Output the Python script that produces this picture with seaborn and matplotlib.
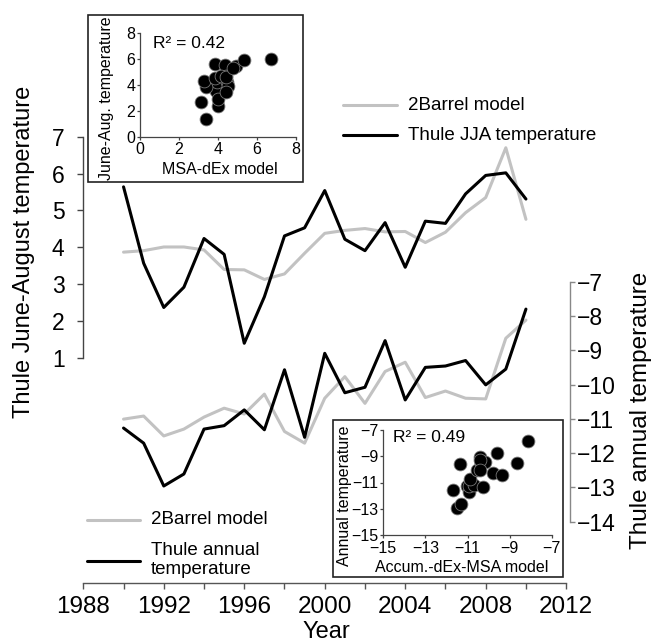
import matplotlib
matplotlib.use("Agg")
import matplotlib.pyplot as plt
from matplotlib.lines import Line2D
from matplotlib.patches import Rectangle
import seaborn as sns

# ---------------- data ----------------
years = list(range(1990, 2011))
jja_thule = [5.64, 3.57, 2.37, 2.92, 4.24, 3.81, 1.40, 2.66, 4.31, 4.53, 5.54,
             4.22, 3.91, 4.67, 3.46, 4.71, 4.65, 5.45, 5.95, 6.02, 5.31]
jja_2barrel = [3.87, 3.91, 4.01, 4.01, 3.93, 3.40, 3.39, 3.13, 3.28, 3.84, 4.38,
               4.46, 4.51, 4.42, 4.43, 4.13, 4.41, 4.94, 5.35, 6.70, 4.76]
ann_thule = [-11.27, -11.71, -12.96, -12.61, -11.30, -11.20, -10.74, -11.32, -9.57, -11.54, -9.09,
             -10.24, -10.08, -8.72, -10.45, -9.50, -9.46, -9.30, -10.01, -9.55, -7.80]
ann_2barrel = [-11.01, -10.92, -11.50, -11.30, -10.95, -10.69, -10.86, -10.28, -11.37, -11.71, -10.40,
               -9.77, -10.55, -9.62, -9.35, -10.38, -10.19, -10.40, -10.42, -8.65, -8.12]
xticks = list(range(1988, 2013, 2))
xticklabels = [str(y) if y % 4 == 0 else "" for y in xticks]
left_ticks = [1, 2, 3, 4, 5, 6, 7]
right_ticks = [-7, -8, -9, -10, -11, -12, -13, -14]
inset1_ticks = [0, 2, 4, 6, 8]
inset2_ticks = [-15, -13, -11, -9, -7]

sns.set_theme(style="white")
plt.rcParams["font.family"] = ["Liberation Sans", "DejaVu Sans"]
plt.rcParams["text.color"] = "black"
plt.rcParams["axes.labelcolor"] = "black"
plt.rcParams["xtick.color"] = "black"
plt.rcParams["ytick.color"] = "black"

W, H = 656, 644
fig = plt.figure(figsize=(W / 100, H / 100), dpi=100)


def rect(x0, y0, x1, y1):
    return [x0 / W, 1 - y1 / H, (x1 - x0) / W, (y1 - y0) / H]


def fx(x):
    return x / W


def fy(y):
    return 1 - y / H


GRAY = "#c2c2c2"
LW = 2.2

# ---------------- main axes ----------------
ax = fig.add_axes(rect(83.3, 100, 570, 583))
ax.set_facecolor("none")
ax.set_xlim(1988, 2012.19)
ax.set_ylim(-5.10, 7.995)
sns.lineplot(x=years, y=jja_2barrel, ax=ax, color=GRAY, linewidth=LW)
sns.lineplot(x=years, y=jja_thule, ax=ax, color="black", linewidth=LW)

for s in ["top", "right"]:
    ax.spines[s].set_visible(False)
ax.spines["left"].set_bounds(1, 7)
ax.spines["bottom"].set_bounds(1988, 2012)
ax.spines["left"].set_color("#444444")
ax.spines["bottom"].set_color("#555555")
ax.spines["left"].set_linewidth(1.0)
ax.spines["bottom"].set_linewidth(1.0)
ax.set_xticks(xticks)
ax.set_xticklabels(xticklabels)
ax.set_yticks(left_ticks)
ax.tick_params(axis="x", direction="out", length=4.5, width=1.0, color="#555555",
               labelcolor="black", labelsize=17.5, pad=5, bottom=True)
ax.tick_params(axis="y", direction="out", length=4.5, width=1.0, color="#444444",
               labelcolor="black", labelsize=16.5, pad=9, left=True)
ax.grid(False)

ax2 = ax.twinx()
ax2.set_ylim(-15.79, -1.70)
sns.lineplot(x=years, y=ann_2barrel, ax=ax2, color=GRAY, linewidth=LW)
sns.lineplot(x=years, y=ann_thule, ax=ax2, color="black", linewidth=LW)
for s in ["top", "left", "bottom"]:
    ax2.spines[s].set_visible(False)
ax2.spines["right"].set_bounds(-14, -7)
ax2.spines["right"].set_color("#888888")
ax2.spines["right"].set_linewidth(1.0)
ax2.set_yticks(right_ticks)
ax2.tick_params(axis="y", direction="out", length=3.5, width=1.0, color="#888888",
                labelcolor="black", labelsize=16.5, pad=1.5, right=True)
ax2.grid(False)

# axis titles
fig.text(fx(24), fy(252), "Thule June-August temperature", rotation=90,
         ha="center", va="center", fontsize=17, color="black")
fig.text(fx(641), fy(410), "Thule annual temperature", rotation=90,
         ha="center", va="center", fontsize=17.5, color="black")
fig.text(fx(326), fy(632), "Year", ha="center", va="center", fontsize=17, color="black")

# ---------------- legends ----------------
def leg_line(x0, x1, y, color):
    fig.add_artist(Line2D([fx(x0), fx(x1)], [fy(y), fy(y)], color=color,
                          linewidth=LW, transform=fig.transFigure))

leg_line(343, 397, 105, GRAY)
fig.text(fx(408), fy(105), "2Barrel model", ha="left", va="center", fontsize=13.5)
leg_line(343, 397, 135, "black")
fig.text(fx(408), fy(135), "Thule JJA temperature", ha="left", va="center", fontsize=13.5)

leg_line(87, 140, 520, GRAY)
fig.text(fx(151), fy(520), "2Barrel model", ha="left", va="center", fontsize=13.5)
leg_line(87, 140, 561, "black")
fig.text(fx(151), fy(560), "Thule annual\ntemperature", ha="left", va="center",
         fontsize=13.5, linespacing=1.12)

# ---------------- inset boxes ----------------
def box(x0, y0, x1, y1):
    r = Rectangle((fx(x0), fy(y1)), fx(x1) - fx(x0), fy(y0) - fy(y1),
                  transform=fig.transFigure, facecolor="white",
                  edgecolor="#222222", linewidth=1.2, zorder=5)
    fig.add_artist(r)

box(88.3, 15, 302.7, 181.7)
box(332.7, 420, 563, 577)


def style_inset(a, xt, yt, xb, yb):
    a.set_facecolor("none")
    for s in ["top", "right"]:
        a.spines[s].set_visible(False)
    a.spines["left"].set_bounds(*yb)
    a.spines["bottom"].set_bounds(*xb)
    for s in ["left", "bottom"]:
        a.spines[s].set_color("#444444")
        a.spines[s].set_linewidth(0.9)
    a.set_xticks(xt)
    a.set_yticks(yt)
    a.tick_params(axis="both", direction="out", length=2.5, width=0.9,
                  color="#444444", labelcolor="black", labelsize=11.5)
    a.tick_params(axis="x", pad=1.5, bottom=True)
    a.tick_params(axis="y", pad=1, left=True)
    a.grid(False)
    a.set_xlabel("")
    a.set_ylabel("")


# inset 1
ia = fig.add_axes(rect(140, 33.3, 296, 136.7))
ia.set_zorder(6)
ia.set_xlim(0, 8)
ia.set_ylim(0, 8)
sns.scatterplot(x=jja_2barrel, y=jja_thule, ax=ia, color="black", s=85,
                edgecolor="#777777", linewidth=0.6, clip_on=False)
style_inset(ia, inset1_ticks, inset1_ticks, (0, 8), (0, 8))
fig.text(fx(153), fy(43), "R² = 0.42", ha="left", va="center", fontsize=12.5, zorder=7)
fig.text(fx(107), fy(98), "June-Aug. temperature", rotation=90, ha="center",
         va="center", fontsize=11.5, zorder=7)
fig.text(fx(220), fy(170), "MSA-dEx model", ha="center", va="center",
         fontsize=11.5, zorder=7)

# inset 2
ib = fig.add_axes(rect(383.3, 430, 551.7, 535))
ib.set_zorder(6)
ib.set_xlim(-15, -7)
ib.set_ylim(-15, -7)
sns.scatterplot(x=ann_2barrel, y=ann_thule, ax=ib, color="black", s=85,
                edgecolor="#777777", linewidth=0.6, clip_on=False)
style_inset(ib, inset2_ticks, inset2_ticks, (-15, -7), (-15, -7))
fig.text(fx(393), fy(438), "R² = 0.49", ha="left", va="center", fontsize=12.5, zorder=7)
fig.text(fx(345), fy(496), "Annual temperature", rotation=90, ha="center",
         va="center", fontsize=11.5, zorder=7)
fig.text(fx(462), fy(568), "Accum.-dEx-MSA model", ha="center", va="center",
         fontsize=11.5, zorder=7)

fig.savefig("out.png", dpi=100)
